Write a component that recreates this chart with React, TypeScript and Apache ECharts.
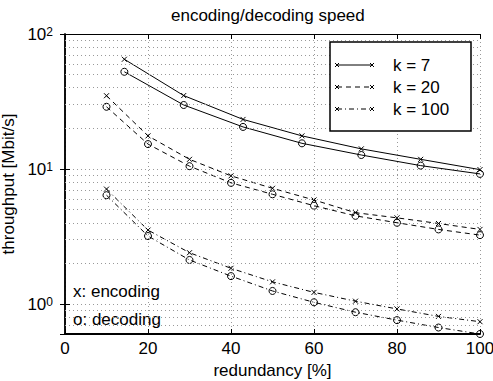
import React, { useEffect, useRef } from 'react';
import * as echarts from 'echarts';

// ---- data ----
const k7Redundancy = [14.3, 28.6, 42.9, 57.1, 71.4, 85.7, 100];
const k7Encoding = [65, 35, 23.3, 17.6, 14.1, 11.8, 9.9];
const k7Decoding = [52.5, 29.8, 20.5, 15.5, 12.7, 10.6, 9.2];

const k20Redundancy = [10, 20, 30, 40, 50, 60, 70, 80, 90, 100];
const k20Encoding = [34.9, 17.6, 11.8, 8.9, 7.2, 5.9, 4.75, 4.35, 3.95, 3.57];
const k20Decoding = [28.9, 15.3, 10.5, 7.9, 6.5, 5.35, 4.5, 4.0, 3.57, 3.24];

const k100Redundancy = [10, 20, 30, 40, 50, 60, 70, 80, 90, 100];
const k100Encoding = [7.1, 3.53, 2.4, 1.84, 1.46, 1.22, 1.05, 0.92, 0.81, 0.74];
const k100Decoding = [6.4, 3.19, 2.12, 1.61, 1.25, 1.03, 0.87, 0.76, 0.67, 0.6];

const legendLabels = ['k = 7', 'k = 20', 'k = 100'];
const yMinorGrid = [0.7, 0.8, 0.9, 2, 3, 4, 5, 6, 7, 8, 9, 20, 30, 40, 50, 60, 70, 80, 90];
const xMin = 0;
const xMax = 100;
const xInterval = 20;
const yMin = 0.6;
const yMax = 100;

const FONT = '"Liberation Sans", Arial, Helvetica, sans-serif';
const X_SYMBOL = 'path://M0,0L10,10M10,0L0,10';
const DASHES: any[] = ['solid', [5, 4], [5, 3, 1, 3]];
const GRID_STYLE = { color: '#999', type: [1, 3], width: 1 };

function mkSeries(name: string, xs: number[], ys: number[], dash: any, enc: boolean) {
  return {
    name,
    type: 'line',
    data: xs.map((x, i) => [x, ys[i]]),
    symbol: enc ? X_SYMBOL : 'circle',
    symbolSize: enc ? 5 : 7,
    showSymbol: true,
    clip: false,
    z: 3,
    lineStyle: { color: '#000', width: 1, type: dash },
    itemStyle: { color: 'transparent', borderColor: '#000', borderWidth: 1 },
    emphasis: { disabled: true },
  };
}

export default function App() {
  const ref = useRef<HTMLDivElement>(null);
  useEffect(() => {
    const chart = echarts.init(ref.current!, null, { renderer: 'svg' });

    const legendGraphics: any[] = [
      {
        type: 'rect',
        shape: { x: 330, y: 42, width: 141, height: 89 },
        style: { fill: '#fff', stroke: '#000', lineWidth: 1.5 },
        z: 10,
      },
    ];
    const rowsY = [65, 87, 109];
    legendLabels.forEach((lab, i) => {
      const y = rowsY[i];
      const x0 = 337;
      const x1 = 372;
      const dash = DASHES[i];
      legendGraphics.push({
        type: 'line',
        shape: { x1: x0, y1: y, x2: x1, y2: y },
        style: { stroke: '#000', lineWidth: 1, lineDash: dash === 'solid' ? null : dash },
        z: 11,
      });
      [x0, x1].forEach((cx) => {
        legendGraphics.push({
          type: 'polyline',
          shape: { points: [[cx - 2, y - 2], [cx + 2, y + 2]] },
          style: { stroke: '#000', lineWidth: 1 },
          z: 11,
        });
        legendGraphics.push({
          type: 'polyline',
          shape: { points: [[cx + 2, y - 2], [cx - 2, y + 2]] },
          style: { stroke: '#000', lineWidth: 1 },
          z: 11,
        });
      });
      legendGraphics.push({
        type: 'text',
        x: 393,
        y,
        style: { text: lab, fontSize: 17, fontFamily: FONT, fill: '#000', verticalAlign: 'middle', align: 'left' },
        z: 11,
      });
    });

    const annotations: any[] = [
      {
        type: 'text',
        x: 73,
        y: 291,
        style: { text: 'x: encoding', fontSize: 17, fontFamily: FONT, fill: '#000', verticalAlign: 'middle' },
        z: 5,
      },
      {
        type: 'text',
        x: 73,
        y: 319,
        style: { text: 'o: decoding', fontSize: 17, fontFamily: FONT, fill: '#000', verticalAlign: 'middle' },
        z: 5,
      },
    ];

    const option: any = {
      animation: false,
      backgroundColor: '#fff',
      textStyle: { fontFamily: FONT },
      title: {
        text: 'encoding/decoding speed',
        left: 171,
        top: 7,
        padding: 0,
        textStyle: { fontSize: 17, fontWeight: 'normal', color: '#000', fontFamily: FONT },
      },
      grid: { left: 65, top: 34, right: 13, bottom: 47, containLabel: false, outerBoundsMode: 'none' },
      xAxis: [
        {
          type: 'value',
          min: xMin,
          max: xMax,
          interval: xInterval,
          position: 'bottom',
          name: 'redundancy [%]',
          nameLocation: 'middle',
          nameGap: 24,
          nameTextStyle: { fontSize: 17, color: '#000', fontFamily: FONT },
          axisLine: { show: true, lineStyle: { color: '#000', width: 2 } },
          axisTick: { show: true, inside: true, length: 5, lineStyle: { color: '#000' } },
          axisLabel: { fontSize: 17, color: '#000', margin: 6, fontFamily: FONT, hideOverlap: false },
          splitLine: { show: true, lineStyle: GRID_STYLE },
        },
        {
          type: 'value',
          min: xMin,
          max: xMax,
          interval: xInterval,
          position: 'top',
          axisLine: { show: true, lineStyle: { color: '#000', width: 1 } },
          axisTick: { show: true, inside: true, length: 5, lineStyle: { color: '#000' } },
          axisLabel: { show: false },
          splitLine: { show: false },
        },
      ],
      yAxis: [
        {
          type: 'log',
          logBase: 10,
          min: yMin,
          max: yMax,
          position: 'left',
          name: 'throughput [Mbit/s]',
          nameLocation: 'middle',
          nameGap: 38,
          nameRotate: 90,
          nameTextStyle: { fontSize: 17, color: '#000', fontFamily: FONT },
          axisLine: { show: true, lineStyle: { color: '#000', width: 1.5 } },
          axisTick: { show: true, inside: true, length: 5, lineStyle: { color: '#000' } },
          axisLabel: {
            margin: 12,
            formatter: (v: number) => {
              const e = Math.log10(v);
              const r = Math.round(e);
              if (Math.abs(e - r) < 1e-6) return `{b|10}{s|${r}}`;
              return '';
            },
            rich: {
              b: { fontSize: 17, color: '#000', fontFamily: FONT },
              s: { fontSize: 12, color: '#000', fontFamily: FONT, verticalAlign: 'top' },
            },
          },
          splitLine: { show: true, lineStyle: GRID_STYLE },
        },
        {
          type: 'log',
          logBase: 10,
          min: yMin,
          max: yMax,
          position: 'right',
          axisLine: { show: true, lineStyle: { color: '#000', width: 1.5 } },
          axisTick: { show: true, inside: true, length: 5, lineStyle: { color: '#000' } },
          axisLabel: { show: false },
          splitLine: { show: false },
        },
      ],
      series: [
        {
          name: 'grid',
          type: 'line',
          data: [],
          z: 1,
          silent: true,
          markLine: {
            silent: true,
            symbol: ['none', 'none'],
            label: { show: false },
            lineStyle: GRID_STYLE,
            emphasis: { disabled: true },
            data: yMinorGrid.map((v) => ({ yAxis: v })),
          },
        },
        mkSeries('k = 7 encoding', k7Redundancy, k7Encoding, DASHES[0], true),
        mkSeries('k = 7 decoding', k7Redundancy, k7Decoding, DASHES[0], false),
        mkSeries('k = 20 encoding', k20Redundancy, k20Encoding, DASHES[1], true),
        mkSeries('k = 20 decoding', k20Redundancy, k20Decoding, DASHES[1], false),
        mkSeries('k = 100 encoding', k100Redundancy, k100Encoding, DASHES[2], true),
        mkSeries('k = 100 decoding', k100Redundancy, k100Decoding, DASHES[2], false),
      ],
      graphic: [...annotations, ...legendGraphics],
    };
    chart.setOption(option);
    return () => chart.dispose();
  }, []);
  return (
    <div
      ref={ref}
      style={{ position: 'absolute', left: 0, top: 0, width: 493, height: 381, background: '#fff' }}
    />
  );
}
